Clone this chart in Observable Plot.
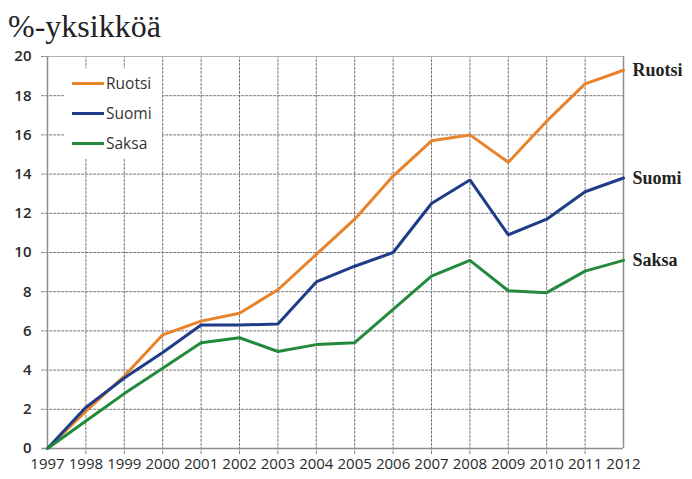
<!DOCTYPE html>
<html>
<head>
<meta charset="utf-8">
<script src="https://cdn.jsdelivr.net/npm/d3@7"></script>
<script src="https://cdn.jsdelivr.net/npm/@observablehq/plot@0.6"></script>
<style>
  html, body { margin: 0; padding: 0; background: #fff; }
  #wrap { position: relative; width: 692px; height: 479px; overflow: hidden; }
  #title { position: absolute; left: 8px; top: 10px; font-family: "Liberation Serif", serif; font-size: 32px; color: #222; line-height: 1; }
  #legend { position: absolute; left: 64px; top: 68px; width: 98px; padding-left: 8px; box-sizing: border-box; background: #fff; font-family: "Open Sans", sans-serif; font-size: 15.5px; color: #333; }
  #legend div { display: flex; align-items: center; height: 30px; }
  #legend span.sw { display: inline-block; width: 32px; height: 3px; margin-right: 2px; }
</style>
</head>
<body>
<div id="wrap">
  <div id="title">%-yksikköä</div>
  <div id="legend"></div>
</div>
<script>
const years = [1997,1998,1999,2000,2001,2002,2003,2004,2005,2006,2007,2008,2009,2010,2011,2012];
const ruotsi = [0,1.9,3.7,5.8,6.5,6.9,8.1,9.9,11.7,13.9,15.7,16.0,14.6,16.7,18.6,19.3];
const suomi  = [0,2.1,3.6,4.9,6.3,6.3,6.35,8.5,9.3,10.0,12.5,13.7,10.9,11.7,13.1,13.8];
const saksa  = [0,1.4,2.8,4.1,5.4,5.65,4.95,5.3,5.4,7.1,8.8,9.6,8.05,7.95,9.05,9.6];
const seriesNames = ["Ruotsi","Suomi","Saksa"];
const seriesColors = ["#e8832c","#1f3c88","#238a3c"];
const yTicks = [0,2,4,6,8,10,12,14,16,18,20];

const seriesValues = [ruotsi, suomi, saksa];
const data = [];
seriesNames.forEach((name, i) => {
  years.forEach((yr, j) => data.push({series: name, year: yr, value: seriesValues[i][j]}));
});
const lastPoints = seriesNames.map((name, i) => ({series: name, year: years[years.length-1], value: seriesValues[i][years.length-1]}));

const chart = Plot.plot({
  width: 692,
  height: 479,
  marginTop: 56,
  marginBottom: 31,
  marginLeft: 47,
  marginRight: 69,
  style: {fontFamily: "'Open Sans', sans-serif", background: "transparent"},
  x: {domain: [1997, 2012], ticks: years, tickFormat: "d", label: null},
  y: {domain: [0, 20], ticks: yTicks, label: null},
  color: {domain: seriesNames, range: seriesColors},
  marks: [
    Plot.ruleY(yTicks.filter(d => d > 0), {stroke: "#777", strokeWidth: 1, strokeDasharray: "3,1", x1: 1996.85, x2: 2012}),
    Plot.ruleX(years.filter(d => d > 1997 && d < 2012), {stroke: "#777", strokeWidth: 1, strokeDasharray: "3,1", y1: -0.3, y2: 20}),
    Plot.ruleX([1997, 2012], {stroke: "#8d8d8d", strokeWidth: 1.5}),
    Plot.ruleY([0], {stroke: "#8d8d8d", strokeWidth: 1.5, x1: 1996.85, x2: 2012}),
    Plot.ruleY([20], {stroke: "#b0b0b0", strokeWidth: 1}),
    Plot.axisX({ticks: years, tickFormat: "d", tickSize: 0, tickPadding: 10, fontSize: 15, fill: "#2a2a2a", fontWeight: 500}),
    Plot.axisY({ticks: yTicks, tickSize: 0, tickPadding: 16, fontSize: 15, fill: "#2a2a2a", fontWeight: 600}),
    Plot.line(data, {x: "year", y: "value", z: "series", stroke: "series", strokeWidth: 3, strokeLinejoin: "miter"}),
    Plot.text(lastPoints, {x: "year", y: "value", text: "series", dx: 9, textAnchor: "start", fontFamily: "'Liberation Serif', serif", fontWeight: "bold", fontSize: 18, fill: "#222"})
  ]
});
document.getElementById("wrap").insertBefore(chart, document.getElementById("title"));
chart.style.position = "absolute";
chart.style.left = "0";
chart.style.top = "0";

const legend = document.getElementById("legend");
seriesNames.forEach((name, i) => {
  const row = document.createElement("div");
  const sw = document.createElement("span");
  sw.className = "sw";
  sw.style.background = seriesColors[i];
  row.appendChild(sw);
  row.appendChild(document.createTextNode(name));
  legend.appendChild(row);
});
</script>
</body>
</html>
